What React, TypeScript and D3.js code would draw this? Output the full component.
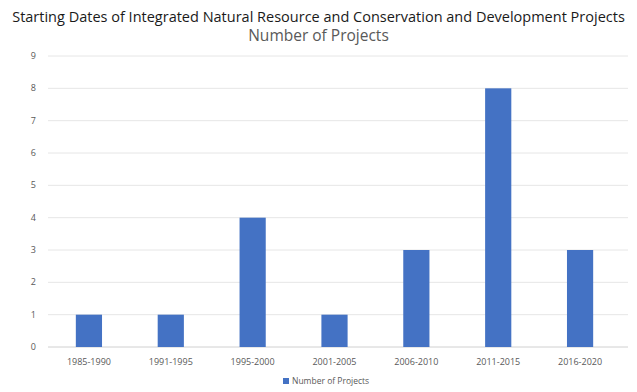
import React from "react";
import * as d3 from "d3";

const categories = ["1985-1990", "1991-1995", "1995-2000", "2001-2005", "2006-2010", "2011-2015", "2016-2020"];
const projectCounts = [1, 1, 4, 1, 3, 8, 3];
const yTicks = [0, 1, 2, 3, 4, 5, 6, 7, 8, 9];

const W = 637;
const H = 392;
const FONT = "'Open Sans', sans-serif";

export default function App() {
  const x = d3.scaleBand().domain(categories).range([48, 621]).paddingInner(0.68).paddingOuter(0.34);
  const y = d3.scaleLinear().domain([0, 9]).range([347, 56]);

  return (
    <svg width={W} height={H} style={{ position: "absolute", left: 0, top: 0, background: "#fff" }} fontFamily={FONT}>
      <text x={W / 2} y={22} textAnchor="middle" fontSize={14.5} fill="#1a1a1a">
        Starting Dates of Integrated Natural Resource and Conservation and Development Projects
      </text>
      <text x={W / 2} y={41} textAnchor="middle" fontSize={15.5} fill="#595959">
        Number of Projects
      </text>
      {/* gridlines + y labels */}
      {yTicks.map((t) => (
        <g key={t}>
          <line x1={48} x2={628} y1={y(t)} y2={y(t)} stroke={t === 0 ? "#d0d0d0" : "#e6e6e6"} strokeWidth={1} />
          <text x={36} y={y(t)} dy="0.35em" textAnchor="end" fontSize={9} fill="#595959">
            {t}
          </text>
        </g>
      ))}
      {categories.map((c, i) => (
        <g key={c}>
          <rect
            x={x(c)}
            y={y(projectCounts[i])}
            width={x.bandwidth()}
            height={y(0) - y(projectCounts[i])}
            fill="#4472C4"
          />
          <text x={x(c)! + x.bandwidth() / 2} y={365} textAnchor="middle" fontSize={9} fill="#595959">
            {c}
          </text>
        </g>
      ))}
      {/* legend */}
      <rect x={283} y={378} width={6} height={6} fill="#4472C4" />
      <text x={292} y={384} fontSize={8.5} fill="#595959">
        Number of Projects
      </text>
    </svg>
  );
}
